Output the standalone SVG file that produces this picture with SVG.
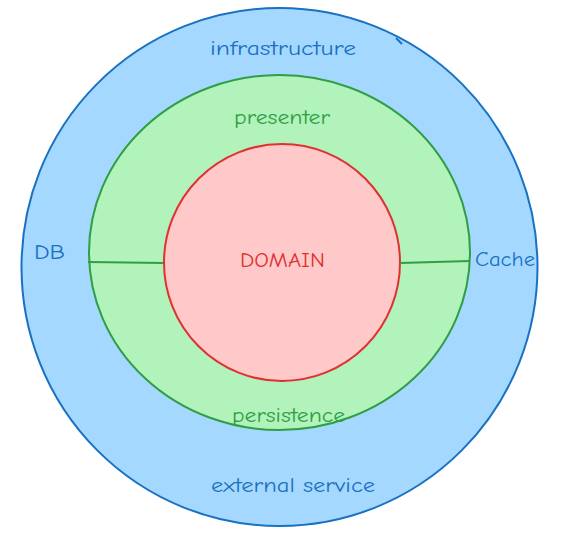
<svg xmlns="http://www.w3.org/2000/svg" width="573" height="536" viewBox="0 0 573 536">
<style>
text{font-family:"Comic Neue","Liberation Sans",sans-serif;font-size:20px;}
.b{fill:#1971c2}.g{fill:#2f9e44}.r{fill:#e03131}
</style>
<rect width="573" height="536" fill="#ffffff"/>
<g id="infrastructure">
<ellipse cx="279.5" cy="267" rx="258" ry="259" fill="#a5d8ff" stroke="#1971c2" stroke-width="2"/>
<path d="M396 38 L402 44" stroke="#1971c2" stroke-width="2" fill="none"/>
<text class="b" x="210" y="55" textLength="146" lengthAdjust="spacingAndGlyphs">infrastructure</text>
<text class="b" x="211" y="492" textLength="164" lengthAdjust="spacingAndGlyphs">external service</text>
<text class="b" x="34" y="259" textLength="31" lengthAdjust="spacingAndGlyphs">DB</text>
<text class="b" x="475" y="266" textLength="60" lengthAdjust="spacingAndGlyphs">Cache</text>
</g>
<g id="presenter">
<ellipse cx="279.5" cy="252.5" rx="190.5" ry="177.5" fill="#b2f2bb" stroke="#2f9e44" stroke-width="2"/>
<text class="g" x="234" y="124" textLength="96" lengthAdjust="spacingAndGlyphs">presenter</text>
<text class="g" x="232" y="422" textLength="113" lengthAdjust="spacingAndGlyphs">persistence</text>
</g>
<g id="domain">
<ellipse cx="282" cy="262.5" rx="118" ry="118.5" fill="#ffc9c9" stroke="#e03131" stroke-width="2"/>
<text class="r" x="240" y="267" textLength="85" lengthAdjust="spacingAndGlyphs">DOMAIN</text>
</g>
<g id="connectors" stroke="#2f9e44" stroke-width="2" fill="none">
<path d="M88 262 L163 263"/>
<path d="M400 263 L470 261"/>
</g>
</svg>
